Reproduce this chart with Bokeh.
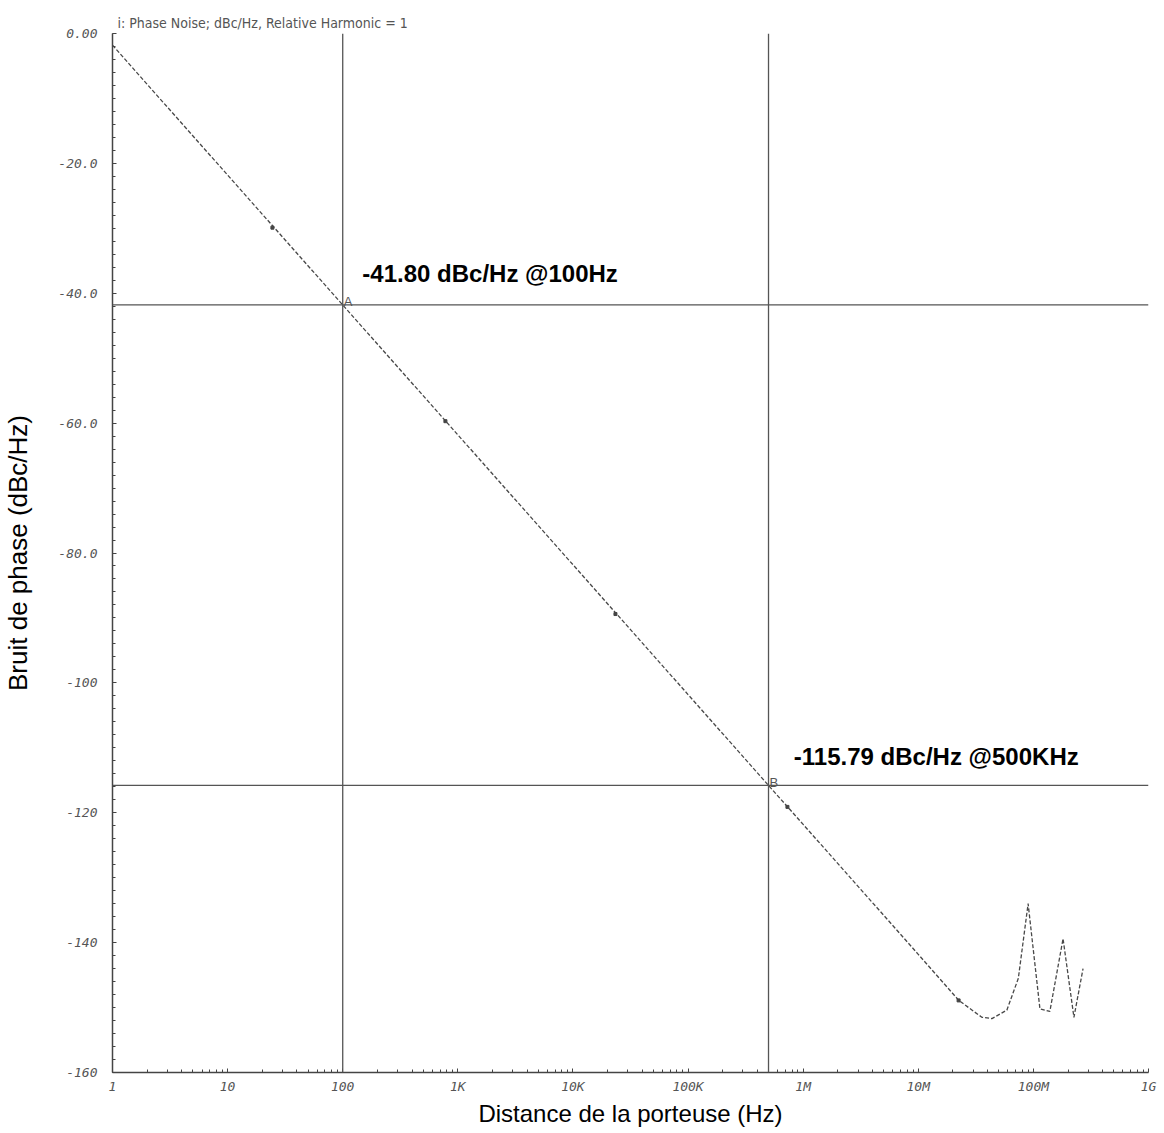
from bokeh.plotting import figure
from bokeh.models import FixedTicker, Span, Range1d
from bokeh.embed import file_html
from bokeh.resources import INLINE
from bokeh.core.properties import value

# ---- data ----
freq_hz = [1, 10, 100, 1e3, 1e4, 1e5, 5e5, 1e6, 1e7, 2.25e7, 3.57e7, 4.36e7,
           5.88e7, 7.4e7, 9.0e7, 1.14e8, 1.39e8, 1.81e8, 2.25e8, 2.7e8]
noise_dbc = [-1.8, -21.8, -41.8, -61.8, -81.8, -101.8, -115.79, -121.8, -141.8,
             -148.9, -151.5, -151.7, -150.4, -145.5, -134.0, -150.2, -150.6,
             -139.4, -151.5, -144.0]

point_freq = [24.5, 780, 2.34e4, 7.3e5, 2.24e7]
point_dbc = [-29.9, -59.7, -89.4, -119.1, -148.9]

marker_names = ["A", "B"]
marker_freq = [100, 5e5]
marker_dbc = [-41.80, -115.79]
marker_text = ["-41.80 dBc/Hz @100Hz", "-115.79 dBc/Hz @500KHz"]

x_ticks = [1, 10, 100, 1e3, 1e4, 1e5, 1e6, 1e7, 1e8, 1e9]
x_tick_labels = ["1", "10", "100", "1K", "10K", "100K", "1M", "10M", "100M", "1G"]
y_ticks = [0, -20, -40, -60, -80, -100, -120, -140, -160]
y_tick_labels = ["0.00", "-20.0", "-40.0", "-60.0", "-80.0", "-100", "-120", "-140", "-160"]

title_text = "i: Phase Noise; dBc/Hz, Relative Harmonic = 1"
x_label = "Distance de la porteuse (Hz)"
y_label = "Bruit de phase (dBc/Hz)"

# ---- figure ----
p = figure(width=1160, height=1130, x_axis_type="log",
           x_range=Range1d(1, 1e9), y_range=Range1d(-160, 0),
           output_backend="svg", toolbar_location=None,
           min_border_left=112, min_border_right=12,
           min_border_top=33, min_border_bottom=58)
p.outline_line_color = None
p.grid.visible = False
p.background_fill_color = "white"

p.title.text = title_text
p.title.text_font = "DejaVu Sans Condensed"
p.title.text_font_size = "14px"
p.title.text_font_style = "normal"
p.title.text_color = "#555555"
p.title.offset = 5
p.title.standoff = 5

minor_x = [k * 10 ** n for n in range(0, 9) for k in range(2, 10)]
p.xaxis.ticker = FixedTicker(ticks=x_ticks, minor_ticks=minor_x)
p.xaxis.major_label_overrides = {t: l for t, l in zip(x_ticks, x_tick_labels)}
minor_y = list(range(-160, 1, 2))
p.yaxis.ticker = FixedTicker(ticks=y_ticks, minor_ticks=minor_y)
p.yaxis.major_label_overrides = {t: l for t, l in zip(y_ticks, y_tick_labels)}

for ax in (p.xaxis[0], p.yaxis[0]):
    ax.axis_line_color = "#444444"
    ax.axis_line_width = 1.5
    ax.major_tick_in = 4
    ax.major_tick_out = 0
    ax.minor_tick_in = 3
    ax.minor_tick_out = 0
    ax.major_tick_line_color = "#444444"
    ax.minor_tick_line_color = "#444444"
    ax.major_label_text_font = "DejaVu Sans Mono"
    ax.major_label_text_font_style = "italic"
    ax.major_label_text_font_size = "13px"
    ax.major_label_text_color = "#555555"
    ax.axis_label_text_font = "Liberation Sans"
    ax.axis_label_text_font_style = "normal"
    ax.axis_label_text_color = "black"

p.xaxis.axis_label = x_label
p.yaxis.axis_label = y_label
p.xaxis.axis_label_text_font_size = "24px"
p.yaxis.axis_label_text_font_size = "26px"
p.xaxis.major_label_standoff = 6
p.xaxis.axis_label_standoff = 3
p.yaxis.major_label_standoff = 15
p.yaxis.axis_label_standoff = 22

# crosshair lines at the markers
for f, d in zip(marker_freq, marker_dbc):
    p.add_layout(Span(location=f, dimension="height", line_color="#555555", line_width=1.3))
    p.add_layout(Span(location=d, dimension="width", line_color="#555555", line_width=1.3))

# curve
p.line(freq_hz, noise_dbc, line_color="#484848", line_width=1.3, line_dash="4 2")
p.scatter(point_freq, point_dbc, marker="square", size=3, color="#444444")

# marker letters
p.text(x=[102, 5.1e5], y=[-41.3, -115.3], text=marker_names,
       text_font=value("Liberation Sans"), text_font_size="13px",
       text_color="#555555", text_baseline="alphabetic")

# annotation values
p.text(x=[148, 8.3e5], y=[-36.9, -111.4], text=marker_text,
       text_font=value("Liberation Sans"), text_font_size="24px",
       text_font_style="bold", text_color="black", text_baseline="alphabetic")

open("out.html", "w").write(file_html(p, INLINE))
